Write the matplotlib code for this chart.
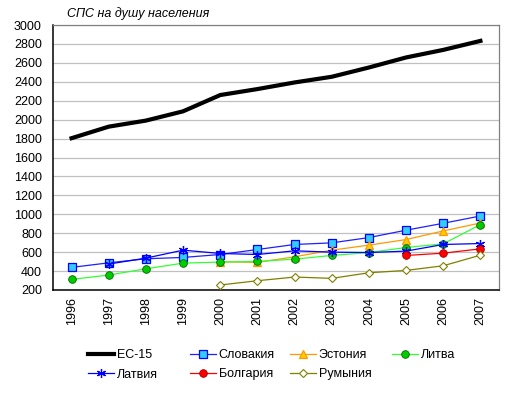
import matplotlib

matplotlib.use("Agg")

import matplotlib.pyplot as plt

plt.rcParams["font.family"] = ["Liberation Sans", "DejaVu Sans"]

YEARS = ["1996", "1997", "1998", "1999", "2000", "2001",
         "2002", "2003", "2004", "2005", "2006", "2007"]

EU15 = [1804, 1926, 1990, 2088, 2260, 2323, 2393, 2453, 2551, 2657, 2737, 2832]
SLOVAKIA = [439, 487, 530, 544, 575, 628, 681, 698, 754, 832, 905, 982]
ESTONIA = [None, None, None, None, 498, 492, 551, 621, 674, 733, 824, 908]
LITHUANIA = [312, 358, 424, 484, 495, 502, 526, 565, 596, 649, 688, 891]
LATVIA = [None, 474, 537, 621, 586, 575, 614, 600, 596, 611, 681, 691]
BULGARIA = [None, None, None, None, None, None, None, None, None, 565, 589, 635]
ROMANIA = [None, None, None, None, 253, 298, 337, 323, 382, 407, 456, 568]

TITLE = "СПС на душу населения"
W, H = 515, 395
FS = 9


def series_xy(values):
    pts = [(i, v) for i, v in enumerate(values) if v is not None]
    return [p[0] for p in pts], [p[1] for p in pts]


fig = plt.figure(figsize=(W / 100, H / 100), dpi=100)
ax = fig.add_axes([53 / W, 1 - 290 / H, (499 - 53) / W, (290 - 25) / H])

styles = [
    ("ЕС-15", EU15, dict(color="black", lw=3.0, marker=None)),
    ("Словакия", SLOVAKIA, dict(color="#2020FF", lw=0.9, marker="s", ms=5.5,
                                mfc="#33CCFF", mec="#0000FF", mew=0.9)),
    ("Эстония", ESTONIA, dict(color="#FF9900", lw=0.9, marker="^", ms=5.5,
                              mfc="#FFCC00", mec="#FF9900", mew=0.9)),
    ("Литва", LITHUANIA, dict(color="#33FF33", lw=0.9, marker="o", ms=5.5,
                              mfc="#00CC00", mec="#006600", mew=0.6)),
    ("Латвия", LATVIA, dict(color="#0000FF", lw=0.9, marker=(6, 2, 0), ms=6.5,
                            mec="#0000FF", mew=0.9)),
    ("Болгария", BULGARIA, dict(color="#FF0000", lw=0.9, marker="o", ms=5.5,
                                mfc="#FF0000", mec="#990000", mew=0.6)),
    ("Румыния", ROMANIA, dict(color="#808000", lw=0.9, marker="D", ms=4.2,
                              mfc="white", mec="#808000", mew=0.8)),
]

handles = {}
for label, values, kw in styles:
    xs, ys = series_xy(values)
    (line,) = ax.plot(xs, ys, label=label, zorder=3, **kw)
    handles[label] = line

ax.set_xlim(-0.5, len(YEARS) - 0.5)
ax.set_ylim(200, 3000)
ax.set_yticks(range(200, 3001, 200))
ax.set_xticks(range(len(YEARS)))
ax.set_xticklabels(YEARS, rotation=90)
ax.tick_params(axis="both", length=0, labelsize=FS)
ax.tick_params(axis="y", pad=8)
ax.tick_params(axis="x", pad=5)
ax.grid(axis="y", color="#C0C0C0", lw=0.9, zorder=0)
ax.set_axisbelow(True)
for side in ("top", "right"):
    ax.spines[side].set_color("#808080")
    ax.spines[side].set_linewidth(0.9)
for side in ("left", "bottom"):
    ax.spines[side].set_color("black")
    ax.spines[side].set_linewidth(1.1)

fig.text(67 / W, 1 - 14 / H, TITLE, fontsize=FS, style="italic", va="center")

columns = [["ЕС-15", "Латвия"], ["Словакия", "Болгария"],
           ["Эстония", "Румыния"], ["Литва"]]
col_x = [88, 190, 290, 392]
for names, x in zip(columns, col_x):
    fig.legend([handles[n] for n in names], names,
               loc="upper left", bbox_to_anchor=(x / W, 1 - 349 / H),
               frameon=False, fontsize=FS, borderpad=0, borderaxespad=0,
               handlelength=2.1, handletextpad=0.2, labelspacing=0.6,
               markerscale=1.0)

fig.savefig("out.png", dpi=100)
